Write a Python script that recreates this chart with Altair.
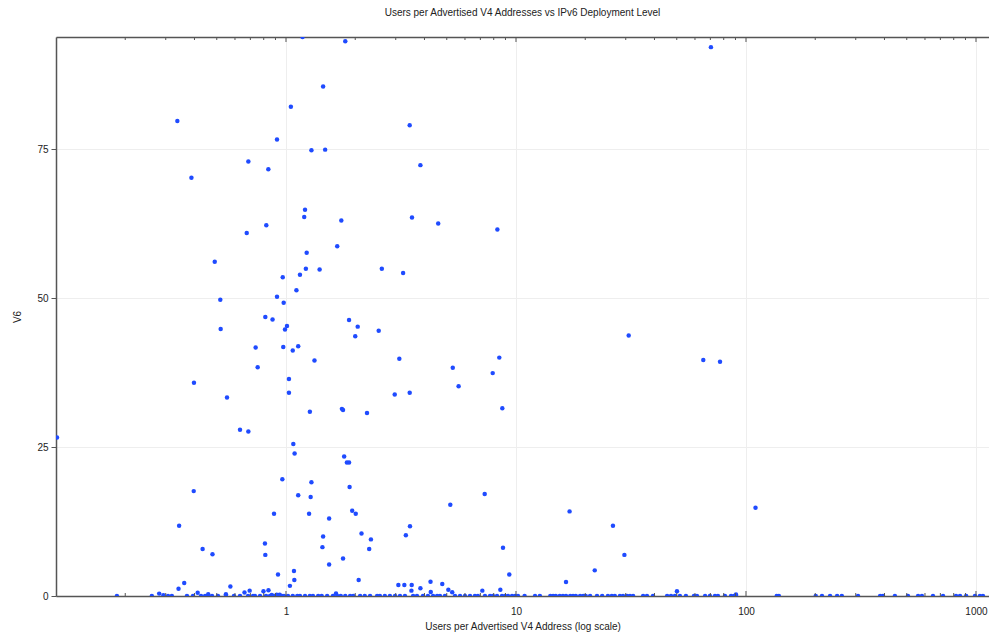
import altair as alt
import pandas as pd

# ---- data (users per advertised V4 address, V6 level) ----
v4_users = [1.18, 1.81, 70.4, 1.45, 1.05, 0.337, 3.45, 0.914, 1.29, 1.48, 0.686, 3.84, 0.838, 0.388,
            1.21, 1.20, 1.74, 3.53, 4.59, 8.3, 0.821, 0.675, 1.67, 1.23, 0.49, 1.22, 1.40, 2.61, 3.23,
            0.968, 1.15, 1.11, 0.914, 0.518, 0.977, 0.813, 0.874, 1.88, 0.52, 0.99, 1.01, 2.05, 2.0,
            2.53, 30.9, 0.738, 0.973, 1.07, 1.13, 1.33, 3.11, 8.46, 65.2, 77.1, 0.753, 5.31, 7.92,
            0.398, 1.03, 5.63, 0.554, 1.03, 2.97, 3.45, 1.27, 1.75, 1.77, 2.25, 8.72, 0.631, 0.686,
            0.101, 1.076, 1.09, 1.79, 1.84, 1.88, 0.964, 1.29, 0.397, 1.13, 1.28, 1.89, 7.31, 5.18,
            110, 17.1, 1.94, 2.01, 0.887, 1.26, 1.54, 26.4, 0.343, 3.46, 2.13, 3.32, 1.45, 2.34, 0.81,
            1.44, 2.30, 8.78, 0.434, 0.479, 0.813, 29.6, 1.77, 1.54, 1.083, 22.0, 0.923, 9.35, 1.087,
            2.07, 0.361, 16.5, 0.341, 0.573, 1.04, 3.08, 3.27, 3.52, 3.51, 3.84, 4.25, 4.26, 4.78,
            5.08, 5.28, 7.14, 8.55, 50.1, 90.5, 0.281, 0.293, 0.413, 0.459, 0.548, 0.66, 0.695, 0.798,
            0.839, 1.65, 0.867, 0.911, 0.939]
v6_level = [93.8, 93.1, 92.1, 85.5, 82.1, 79.7, 79.0, 76.6, 74.8, 74.9, 72.9, 72.3, 71.6, 70.2,
            64.8, 63.6, 63.0, 63.5, 62.5, 61.5, 62.2, 60.9, 58.7, 57.6, 56.1, 54.9, 54.8, 54.9, 54.2,
            53.5, 53.9, 51.3, 50.2, 49.7, 49.2, 46.8, 46.4, 46.3, 44.8, 44.7, 45.3, 45.2, 43.6,
            44.5, 43.7, 41.7, 41.8, 41.2, 41.9, 39.5, 39.8, 40.0, 39.6, 39.3, 38.4, 38.3, 37.4,
            35.8, 36.4, 35.2, 33.3, 34.1, 33.8, 34.1, 30.9, 31.4, 31.2, 30.7, 31.5, 27.9, 27.6,
            26.6, 25.5, 23.9, 23.4, 22.4, 22.4, 19.6, 19.1, 17.6, 16.9, 16.6, 18.3, 17.1, 15.3,
            14.8, 14.2, 14.3, 13.8, 13.8, 13.8, 13.0, 11.8, 11.8, 11.7, 10.5, 10.2, 10.0, 9.5, 8.8,
            8.2, 7.9, 8.1, 7.9, 7.0, 6.9, 6.9, 6.3, 5.3, 4.2, 4.3, 3.6, 3.6, 2.7,
            2.7, 2.2, 2.35, 1.2, 1.6, 1.7, 1.85, 1.85, 1.85, 0.9, 1.3, 2.4, 0.67, 2.0,
            1.06, 0.62, 0.9, 1.06, 0.8, 0.25, 0.4, 0.13, 0.54, 0.29, 0.29, 0.59, 0.9, 0.8,
            0.97, 0.42, 0.17, 0.2, 0.2]
# countries sitting at (practically) zero IPv6 deployment
zero_v4_users = [0.184, 0.261, 0.307, 0.319, 0.371, 0.394, 0.427, 0.445, 0.477, 0.506, 0.548, 0.594,
                 0.631, 0.684, 0.719, 0.733, 0.771, 0.819, 0.852, 0.887, 0.923, 0.961, 0.980, 1.02,
                 1.07, 1.12, 1.15, 1.21, 1.27, 1.31, 1.38, 1.43, 1.51, 1.60, 1.67, 1.73, 1.81, 1.90,
                 1.96, 2.10, 2.20, 2.32, 2.49, 2.56, 2.69, 2.83, 2.98, 3.13, 3.29, 3.57, 3.71, 3.94,
                 4.14, 4.36, 4.54, 4.67, 4.91, 5.43, 5.71, 6.00, 6.31, 6.63, 6.83, 7.33, 7.71, 7.94,
                 8.27, 8.69, 8.96, 9.23, 9.61, 9.91, 10.2, 10.9, 12.1, 12.7, 14.1, 14.5, 14.9, 15.5,
                 16.0, 16.5, 17.2, 17.7, 18.2, 19.0, 19.6, 20.1, 21.0, 22.5, 23.7, 25.1, 26.1, 26.9,
                 28.3, 29.2, 30.4, 31.3, 32.3, 35.7, 37.1, 39.4, 45.4, 47.2, 49.1, 51.6, 54.8, 59.4,
                 61.2, 66.4, 69.7, 73.3, 75.5, 81.0, 86.1, 88.7, 90.5, 136, 139, 201, 214, 232, 249,
                 261, 307, 383, 394, 444, 506, 560, 582, 650, 719, 819, 852, 906, 990, 1040, 1072]

major_ticks = [1, 10, 100, 1000]
minor_ticks = [0.2, 0.3, 0.4, 0.5, 0.6, 0.7, 0.8, 0.9,
               2, 3, 4, 5, 6, 7, 8, 9,
               20, 30, 40, 50, 60, 70, 80, 90,
               200, 300, 400, 500, 600, 700, 800, 900]
y_ticks = [0, 25, 50, 75]

FONT = "Liberation Sans"
W, H = 933, 559
XDOM = [0.1, 1139]
YDOM = [0, 93.8]
FRAME = "#555555"

df = pd.DataFrame({
    "x": v4_users + zero_v4_users,
    "y": v6_level + [0] * len(zero_v4_users),
})
major_df = pd.DataFrame({"t": major_ticks})
minor_df = pd.DataFrame({"t": minor_ticks})


def xs():
    return alt.Scale(type="log", domain=XDOM, nice=False)


points = alt.Chart(df).mark_circle(size=20, color="#1f4bff", opacity=1, clip=True).encode(
    x=alt.X("x:Q", scale=xs(), axis=alt.Axis(
        values=major_ticks, format="d", title="Users per Advertised V4 Address (log scale)",
        grid=True, gridColor="#eeeeee", ticks=False, tickSize=0, labelPadding=10,
        domainColor=FRAME, domainWidth=1.5, labelFont=FONT, labelFontSize=10, labelColor="#222",
        titleFont=FONT, titleFontSize=10, titleFontWeight="normal", titleColor="#222",
        titlePadding=5)),
    y=alt.Y("y:Q", scale=alt.Scale(domain=YDOM, nice=False, zero=False), axis=alt.Axis(
        values=y_ticks, title="V6", grid=True, gridColor="#eeeeee", tickSize=5, tickColor=FRAME,
        domainColor=FRAME, domainWidth=1.5, labelPadding=3, labelFont=FONT, labelFontSize=10,
        labelColor="#222", titleFont=FONT, titleFontSize=10, titleFontWeight="normal",
        titleColor="#222", titlePadding=14)),
)

top_axis = alt.Axis(orient="top", labels=False, ticks=False, grid=False, title=None,
                    domainColor=FRAME, domainWidth=1.5)


def tick_layer(data, y0, y1, axis=None):
    return alt.Chart(data).mark_rule(color=FRAME, strokeWidth=1).encode(
        x=alt.X("t:Q", scale=xs(), axis=axis),
        y=alt.value(y0), y2=alt.value(y1),
    )


layers = [
    points,
    tick_layer(major_df, H, H - 5),
    tick_layer(minor_df, H, H - 3),
    tick_layer(major_df, 0, 5, axis=top_axis),
    tick_layer(minor_df, 0, 3),
]

chart = alt.layer(*layers).resolve_scale(x="independent").resolve_axis(x="independent").properties(
    width=W, height=H,
    autosize=alt.AutoSizeParams(type="none"),
    padding={"left": 48, "top": 29, "right": 0, "bottom": 37},
    title=alt.TitleParams("Users per Advertised V4 Addresses vs IPv6 Deployment Level",
                          font=FONT, fontSize=10, fontWeight="normal", color="#222",
                          anchor="middle", baseline="bottom", offset=9),
).configure_view(stroke=None)

chart.save("out.html", embed_options={"renderer": "svg", "actions": False})
